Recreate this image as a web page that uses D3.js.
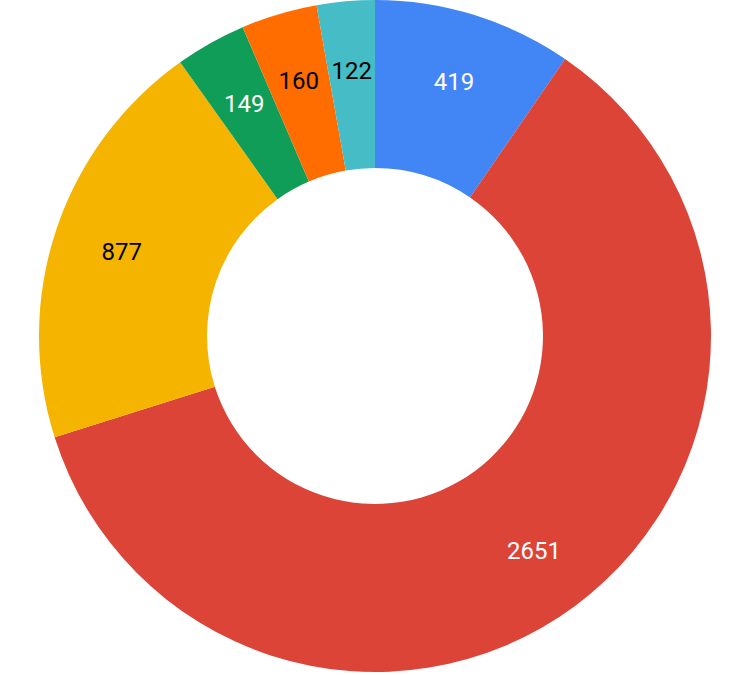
<!DOCTYPE html>
<html>
<head>
<meta charset="utf-8">
<script src="https://cdn.jsdelivr.net/npm/d3@7"></script>
<style>
  html, body { margin: 0; padding: 0; background: #ffffff; }
  svg { display: block; }
</style>
</head>
<body>
<div id="chart"></div>
<script>
const categories = ["A", "B", "C", "D", "E", "F"];
const values = [419, 2651, 877, 149, 160, 122];
const colors = ["#4285F4", "#DB4437", "#F4B400", "#0F9D58", "#FF6D00", "#46BDC6"];
const labelColors = ["#ffffff", "#ffffff", "#000000", "#ffffff", "#000000", "#000000"];

const W = 750, H = 675;
const cx = 375, cy = 336;
const R = 336, r = 168;
const labelR = 267;

const svg = d3.select("#chart").append("svg")
  .attr("width", W).attr("height", H);

const g = svg.append("g").attr("transform", `translate(${cx},${cy})`);

const data = categories.map((c, i) => ({ cat: c, value: values[i], i }));

const pie = d3.pie().value(d => d.value).sort(null);
const arcs = pie(data);

const arc = d3.arc().innerRadius(r).outerRadius(R);
const labelArc = d3.arc().innerRadius(labelR).outerRadius(labelR);

g.selectAll("path.slice")
  .data(arcs)
  .join("path")
  .attr("class", "slice")
  .attr("d", arc)
  .attr("fill", d => colors[d.data.i]);

g.selectAll("text.lbl")
  .data(arcs)
  .join("text")
  .attr("class", "lbl")
  .attr("transform", d => `translate(${labelArc.centroid(d)})`)
  .attr("text-anchor", "middle")
  .attr("dy", "0.36em")
  .attr("font-family", "Roboto, Arial, sans-serif")
  .attr("font-size", 24)
  .attr("fill", d => labelColors[d.data.i])
  .text(d => d.data.value);
</script>
</body>
</html>
